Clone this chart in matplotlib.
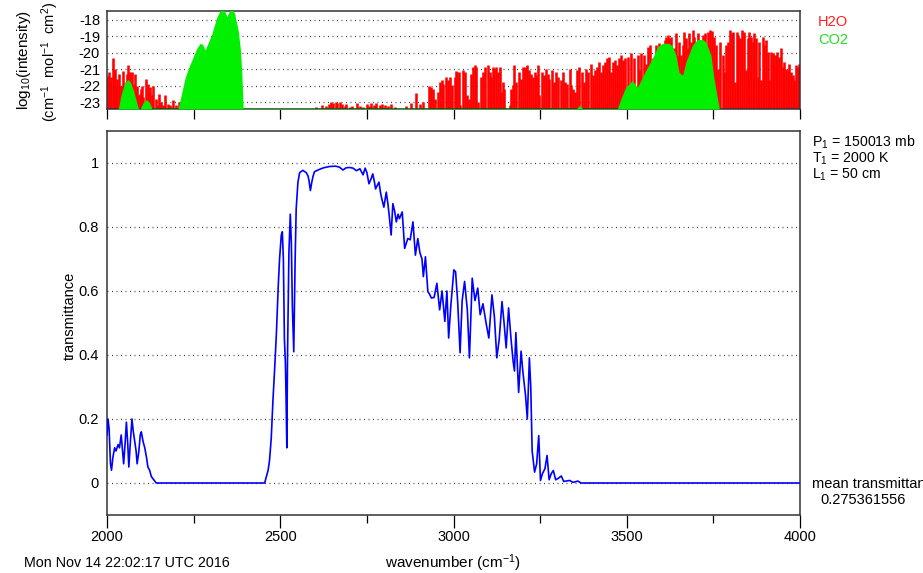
import matplotlib
matplotlib.use("Agg")
import matplotlib.pyplot as plt
from matplotlib.ticker import MultipleLocator

plt.rcParams['font.family'] = ['Liberation Sans', 'DejaVu Sans']
plt.rcParams['mathtext.default'] = 'regular'
plt.rcParams['axes.unicode_minus'] = False

# ---- line intensities (log10, cm^-1 / (mol cm^-2)) ----
h2o_wn = [2003, 2006, 2009, 2012, 2017, 2020, 2023, 2027, 2030, 2034, 2038, 2040,
          2046, 2050, 2054, 2058, 2062, 2065, 2069, 2072, 2076, 2080, 2083, 2087,
          2090, 2094, 2097, 2101, 2104, 2108, 2112, 2117, 2121, 2124, 2131, 2134,
          2140, 2146, 2150, 2156, 2162, 2168, 2175, 2183, 2190, 2198, 2207,
          2604, 2621, 2633, 2640, 2647, 2652, 2660, 2665, 2671, 2679, 2686, 2691,
          2700, 2708, 2721, 2729, 2738, 2750, 2756, 2763, 2770, 2777, 2787, 2795,
          2801, 2811, 2820, 2830, 2862, 2878, 2892, 2902, 2912,
          2929, 2936, 2942, 2948, 2954, 2960, 2966, 2971, 2977, 2984, 2990, 2996,
          3003, 3008, 3011, 3017, 3020, 3027, 3034, 3039, 3046, 3051, 3056, 3061,
          3066, 3070, 3078, 3085, 3091, 3099, 3104, 3109, 3114, 3118, 3123, 3128,
          3133, 3138, 3142, 3147, 3152, 3162, 3166, 3171, 3176, 3181, 3188, 3195,
          3200, 3207, 3213, 3219, 3224, 3229, 3234, 3238, 3243, 3248, 3255, 3261,
          3267, 3272, 3277, 3284, 3289, 3296, 3303, 3309, 3315, 3322, 3328, 3335,
          3339, 3345, 3351, 3357, 3363, 3370, 3376, 3383, 3389, 3397, 3402, 3407,
          3414, 3421, 3426, 3432, 3437, 3443, 3450, 3455, 3461, 3466, 3472, 3479,
          3484, 3489, 3495, 3503, 3512, 3522, 3532, 3536, 3541, 3551, 3556, 3562,
          3568, 3575, 3585, 3594, 3604, 3609, 3613, 3618, 3623, 3628, 3636, 3642,
          3647, 3652, 3657, 3661, 3666, 3671, 3676, 3681, 3686, 3690, 3695, 3700,
          3707, 3712, 3719, 3726, 3732, 3735, 3741, 3745, 3751, 3758, 3764, 3770,
          3777, 3782, 3786, 3793, 3799, 3803, 3808, 3812, 3818, 3822, 3828, 3834,
          3839, 3844, 3849, 3854, 3859, 3863, 3868, 3873, 3878, 3883, 3887, 3892,
          3897, 3902, 3907, 3911, 3916, 3921, 3926, 3931, 3935, 3940, 3945, 3950,
          3955, 3960, 3964, 3969, 3974, 3979, 3984, 3988, 3993, 3998]
h2o_log = [-21.4, -21.2, -21.8, -21.5, -20.35, -21.1, -21.0, -22.0, -21.6, -21.3, -22.6, -22.0,
           -21.1, -22.0, -21.8, -21.3, -20.76, -21.2, -21.8, -21.2, -21.9, -21.3, -22.4, -22.0,
           -22.6, -22.5, -22.2, -22.0, -22.7, -23.0, -21.6, -21.9, -22.4, -22.1, -22.6, -22.0,
           -22.8, -23.2, -22.5, -23.0, -23.2, -22.6, -23.1, -23.2, -22.9, -23.2, -23.0,
           -23.3, -23.17, -23.21, -23.11, -23.01, -23.05, -23.01, -23.05, -23.01, -23.11, -23.21, -23.11,
           -23.32, -23.21, -23.05, -23.26, -23.32, -23.11, -23.21, -23.05, -23.15, -23.05, -23.17, -23.11,
           -23.17, -23.26, -23.11, -23.32, -23.26, -23.05, -22.44, -23.11, -23.01,
           -22.05, -22.09, -22.19, -22.81, -22.4, -21.78, -21.68, -21.89, -21.48, -21.68, -21.48, -21.99,
           -21.48, -21.13, -21.2, -21.17, -23.2, -21.07, -21.17, -22.6, -22.8, -21.3, -20.86, -20.76,
           -20.86, -23.0, -21.48, -21.17, -20.86, -20.76, -21.17, -21.48, -20.86, -20.97, -20.86, -21.17,
           -20.86, -22.4, -21.78, -22.19, -23.4, -23.2, -22.19, -21.99, -20.76, -21.78, -21.17, -21.58,
           -20.86, -20.86, -20.76, -21.07, -21.27, -21.5, -21.17, -21.37, -20.76, -22.6, -21.17, -21.37,
           -20.97, -21.27, -21.58, -21.07, -21.78, -21.17, -21.48, -21.68, -21.17, -21.78, -21.89, -20.97,
           -21.99, -22.19, -22.4, -21.07, -20.86, -21.17, -21.78, -20.97, -21.17, -20.66, -21.37, -21.07,
           -20.86, -20.56, -21.17, -20.76, -20.56, -20.35, -20.25, -21.17, -20.56, -20.45, -20.76, -20.35,
           -20.15, -20.45, -20.35, -20.25, -20.04, -20.35, -20.15, -21.07, -20.04, -20.15, -20.66, -19.64,
           -19.53, -20.35, -19.53, -19.43, -19.53, -19.23, -19.02, -18.92, -19.12, -19.02, -19.74, -18.82,
           -20.15, -19.33, -20.15, -19.53, -18.72, -19.12, -19.74, -18.82, -19.33, -18.61, -19.02, -19.33,
           -18.82, -19.23, -18.92, -18.82, -19.74, -18.72, -18.61, -18.67, -19.02, -19.53, -20.97, -19.33,
           -20.15, -21.17, -19.53, -19.33, -18.61, -18.82, -18.72, -21.78, -18.72, -18.92, -19.12, -18.61,
           -18.72, -21.07, -19.12, -18.72, -19.02, -19.33, -18.82, -19.12, -21.48, -19.33, -21.68, -19.02,
           -19.53, -19.23, -19.94, -21.68, -19.94, -20.04, -20.15, -20.15, -19.94, -20.25, -19.74, -20.86,
           -20.56, -20.97, -21.07, -20.66, -21.17, -21.37, -21.68, -20.76, -20.86, -20.7]

# CO2 band envelopes (dense lines merge into filled bands)
co2_wn = [2030, 2033, 2040, 2050, 2060, 2068, 2078, 2088, 2091, 2094,
          2096, 2105, 2113, 2122, 2130, 2133,
          2200, 2205, 2215, 2225, 2235, 2245, 2259, 2269, 2276, 2283, 2292, 2302,
          2316, 2325, 2331, 2340, 2346, 2353, 2360, 2368, 2375, 2379, 2385, 2389,
          2393, 2396,
          3350, 3355, 3364, 3373, 3376,
          3470, 3473, 3485, 3497, 3516, 3531, 3555, 3574, 3589, 3603, 3621, 3632,
          3642, 3651, 3661, 3671, 3690, 3704, 3719, 3728, 3743, 3752, 3762, 3767,
          3770]
co2_log = [-24, -23.4, -22.6, -21.9, -21.62, -21.8, -22.4, -23.2, -23.4, -24,
           -23.4, -23.0, -22.85, -23.0, -23.4, -24,
           -24, -23.4, -22.5, -21.56, -20.95, -20.45, -19.74, -19.43, -19.5, -19.84, -19.4, -18.9,
           -17.9, -17.5, -17.3, -17.5, -17.8, -17.5, -17.3, -17.6, -18.3, -18.7, -19.8, -21.2,
           -23.4, -24,
           -24, -23.4, -23.2, -23.4, -24,
           -24, -23.4, -22.7, -22.1, -21.7, -22.1, -21.07, -20.35, -19.64, -19.43, -19.43, -19.6,
           -20.15, -21.2, -21.37, -20.55, -19.53, -19.2, -19.2, -19.35, -20.15, -21.6, -22.8, -23.4,
           -24]

# ---- transmittance ----
trans_wn = [2000, 2003, 2006, 2010, 2013, 2017, 2022, 2026, 2032, 2036, 2041, 2045, 2048,
            2052, 2056, 2060, 2063, 2067, 2072, 2076, 2080, 2084, 2087, 2092, 2096, 2099,
            2104, 2109, 2114, 2118, 2123, 2128, 2135, 2142, 2455, 2460, 2465, 2469, 2474,
            2479, 2484, 2489, 2494, 2498, 2503, 2506, 2509, 2512, 2515, 2517, 2519, 2521,
            2525, 2529, 2532, 2535, 2539, 2543, 2546, 2551, 2556, 2565, 2575, 2580, 2583,
            2587, 2591, 2595, 2599, 2613, 2625, 2642, 2660, 2671, 2681, 2690, 2700, 2710,
            2720, 2730, 2739, 2745, 2750, 2756, 2762, 2767, 2772, 2775, 2780, 2785, 2789,
            2792, 2799, 2806, 2811, 2815, 2820, 2825, 2830, 2835, 2840, 2844, 2852, 2859,
            2864, 2868, 2875, 2883, 2890, 2897, 2903, 2909, 2913, 2919, 2926, 2931, 2936,
            2944, 2952, 2960, 2967, 2975, 2981, 2986, 2992, 3001, 3006, 3012, 3019, 3025,
            3032, 3040, 3046, 3054, 3062, 3070, 3077, 3085, 3094, 3102, 3111, 3118, 3125,
            3132, 3140, 3146, 3152, 3159, 3166, 3172, 3176, 3180, 3188, 3195, 3200, 3208,
            3213, 3219, 3223, 3227, 3234, 3240, 3246, 3251, 3257, 3264, 3270, 3276, 3282,
            3288, 3295, 3303, 3311, 3318, 3325, 3335, 3345, 3359, 3368, 4000]
trans = [0.15, 0.2, 0.17, 0.06, 0.04, 0.08, 0.11, 0.10, 0.12, 0.11, 0.15, 0.10, 0.06,
         0.12, 0.19, 0.12, 0.05, 0.12, 0.2, 0.16, 0.13, 0.10, 0.06, 0.10, 0.15, 0.16,
         0.13, 0.11, 0.08, 0.05, 0.04, 0.02, 0.01, 0.0, 0.0, 0.02, 0.04, 0.07, 0.14,
         0.26, 0.36, 0.47, 0.61, 0.70, 0.775, 0.785, 0.70, 0.45, 0.37, 0.25, 0.11, 0.40,
         0.72, 0.84, 0.75, 0.55, 0.41, 0.70, 0.857, 0.94, 0.97, 0.977, 0.97, 0.96, 0.945,
         0.914, 0.94, 0.96, 0.973, 0.98, 0.985, 0.989, 0.99, 0.987, 0.978, 0.985, 0.986, 0.984,
         0.976, 0.982, 0.963, 0.984, 0.97, 0.935, 0.95, 0.966, 0.94, 0.919, 0.93, 0.94, 0.91,
         0.893, 0.862, 0.909, 0.87, 0.83, 0.775, 0.873, 0.85, 0.816, 0.84, 0.826, 0.847, 0.733,
         0.75, 0.764, 0.76, 0.816, 0.712, 0.764, 0.72, 0.70, 0.645, 0.707, 0.598, 0.59, 0.578,
         0.58, 0.624, 0.541, 0.60, 0.505, 0.60, 0.453, 0.55, 0.666, 0.66, 0.567, 0.407, 0.57,
         0.63, 0.54, 0.391, 0.64, 0.57, 0.609, 0.526, 0.56, 0.5, 0.453, 0.588, 0.52, 0.391,
         0.45, 0.567, 0.50, 0.422, 0.547, 0.45, 0.381, 0.35, 0.47, 0.283, 0.412, 0.35, 0.272,
         0.2, 0.391, 0.30, 0.1, 0.034, 0.06, 0.148, 0.008, 0.03, 0.045, 0.086, 0.01, 0.029,
         0.039, 0.01, 0.015, 0.022, 0.005, 0.006, 0.008, 0.002, 0.006, 0.0, 0.0]

log_ticks = [-18, -19, -20, -21, -22, -23]
t_ticks = [0, 0.2, 0.4, 0.6, 0.8, 1]
wn_ticks = [2000, 2500, 3000, 3500, 4000]

mean_trans = "0.275361556"
timestamp = "Mon Nov 14 22:02:17 UTC 2016"
path_info = ["P$_1$ = 150013 mb", "T$_1$ = 2000 K", "L$_1$ = 50 cm"]

W, H = 923, 573
fig = plt.figure(figsize=(W / 100, H / 100), dpi=100)

def fx(px):
    return px / W

def fy(py):
    return 1 - py / H

ax1 = fig.add_axes([fx(107), fy(109), fx(800 - 107), (109 - 11) / H])
ax2 = fig.add_axes([fx(107), fy(515), fx(800 - 107), (515 - 131) / H])

dot = (0, (0.8, 2.8))
grid_kw = dict(color='#444444', lw=0.9, linestyle=dot, zorder=0)
TICK_FS = 10.5

# top panel: line intensities
ymin1 = -23.42
ax1.set_xlim(2000, 4000)
ax1.set_ylim(ymin1, -17.47)
for v in log_ticks:
    ax1.axhline(v, **grid_kw)
ax1.vlines(h2o_wn, ymin1, h2o_log, color='#ff0000', lw=1.85, zorder=2)
ax1.fill_between(co2_wn, ymin1, co2_log, color='#00f000', lw=0, zorder=3)
ax1.set_yticks(log_ticks)
ax1.set_yticklabels([str(v) for v in log_ticks], fontsize=TICK_FS)
ax1.xaxis.set_major_locator(MultipleLocator(250))
ax1.tick_params(axis='x', direction='out', length=7, width=0.9, labelbottom=False)
ax1.tick_params(axis='y', length=0, pad=5)
for s in ax1.spines.values():
    s.set_linewidth(1.1)
    s.set_color('#333333')
fig.text(fx(818), fy(22), "H2O", color='#ff2020', fontsize=10.5, va='center')
fig.text(fx(818), fy(40), "CO2", color='#20e020', fontsize=10.5, va='center')
fig.text(fx(24), fy(60), "log$_{10}$(intensity)", rotation=90, fontsize=11,
         ha='center', va='center')
fig.text(fx(50), fy(62), "(cm$^{-1}$  mol$^{-1}$  cm$^{2}$)", rotation=90, fontsize=10.5,
         ha='center', va='center')

# bottom panel: transmittance
ax2.set_xlim(2000, 4000)
ax2.set_ylim(-0.1, 1.1)
for v in t_ticks:
    ax2.axhline(v, **grid_kw)
ax2.plot(trans_wn, trans, color='#0000ff', lw=1.2, zorder=3)
ax2.set_yticks(t_ticks)
ax2.set_yticklabels(['0', '0.2', '0.4', '0.6', '0.8', '1'], fontsize=TICK_FS)
ax2.set_xticks(wn_ticks)
ax2.set_xticklabels([str(v) for v in wn_ticks], fontsize=TICK_FS)
ax2.xaxis.set_minor_locator(MultipleLocator(250))
ax2.tick_params(axis='x', which='major', direction='out', length=9, width=0.9, pad=2)
ax2.tick_params(axis='x', which='minor', direction='out', length=6, width=0.9)
ax2.tick_params(axis='y', length=0, pad=6)
for s in ax2.spines.values():
    s.set_linewidth(1.1)
    s.set_color('#333333')
fig.text(fx(70), fy(316), "transmittance", fontsize=10.5, rotation=90,
         ha='center', va='center')
fig.text(fx(453), fy(563), "wavenumber (cm$^{-1}$)", fontsize=11, ha='center', va='center')
fig.text(fx(24), fy(563), timestamp, fontsize=10.3, ha='left', va='center')

fig.text(fx(812), fy(134), "\n".join(path_info), fontsize=10.2, ha='left', va='top',
         linespacing=0.95)
fig.text(fx(812), fy(484), "mean transmittance", fontsize=10.5, ha='left', va='center')
fig.text(fx(820), fy(500), mean_trans, fontsize=10.5, ha='left', va='center')

fig.savefig("out.png", dpi=100)
